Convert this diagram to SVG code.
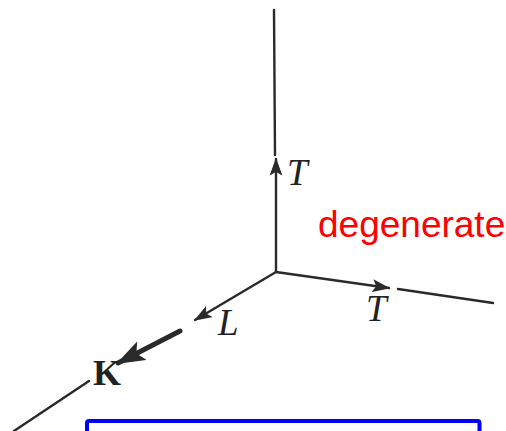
<svg xmlns="http://www.w3.org/2000/svg" width="506" height="431" viewBox="0 0 506 431">
<style>
.ln{stroke:#2a2a2a;stroke-width:2.4;fill:none;stroke-linecap:round}
.lbl{font-family:"Liberation Serif",serif;font-style:italic;font-size:37px;fill:#222}
.kl{font-family:"Liberation Serif",serif;font-weight:bold;font-size:36px;fill:#222}
</style>
<defs>
<marker id="ah" viewBox="0 0 14 10" refX="13" refY="5" markerWidth="7.5" markerHeight="5.4" orient="auto" markerUnits="strokeWidth">
<path d="M0,0 L14,5 L0,10 L3,5 Z" fill="#2a2a2a"/>
</marker>
<marker id="ahk" viewBox="0 0 14 10" refX="13" refY="5" markerWidth="5.8" markerHeight="4.2" orient="auto" markerUnits="strokeWidth">
<path d="M0,0 L14,5 L0,10 L3,5 Z" fill="#2a2a2a"/>
</marker>
</defs>
<g id="connectors">
<line class="ln" x1="274" y1="10" x2="275" y2="155"/>
<line class="ln" x1="276" y1="272" x2="276" y2="159" marker-end="url(#ah)"/>
<line class="ln" x1="276" y1="272" x2="389" y2="288" marker-end="url(#ah)"/>
<line class="ln" x1="398" y1="289" x2="493" y2="303"/>
<line class="ln" x1="276" y1="272" x2="195" y2="320" marker-end="url(#ah)"/>
<line class="ln" x1="180" y1="331" x2="118" y2="363" style="stroke-width:5" marker-end="url(#ahk)"/>
<line class="ln" x1="89" y1="381" x2="14" y2="431"/>
</g>
<g id="labels">
<text class="lbl" x="287" y="185">T</text>
<text class="lbl" x="366" y="321">T</text>
<text class="lbl" x="218" y="335">L</text>
<text class="kl" x="93" y="385">K</text>
</g>
<g id="degenerate">
<text x="318" y="237" style="font-family:'Liberation Sans',Arial,sans-serif;font-size:37px;fill:#ff0000">degenerate</text>
</g>
<g id="box">
<rect x="87" y="421" width="392.5" height="30" rx="2" fill="none" stroke="#0000ff" stroke-width="4"/>
</g>
</svg>
